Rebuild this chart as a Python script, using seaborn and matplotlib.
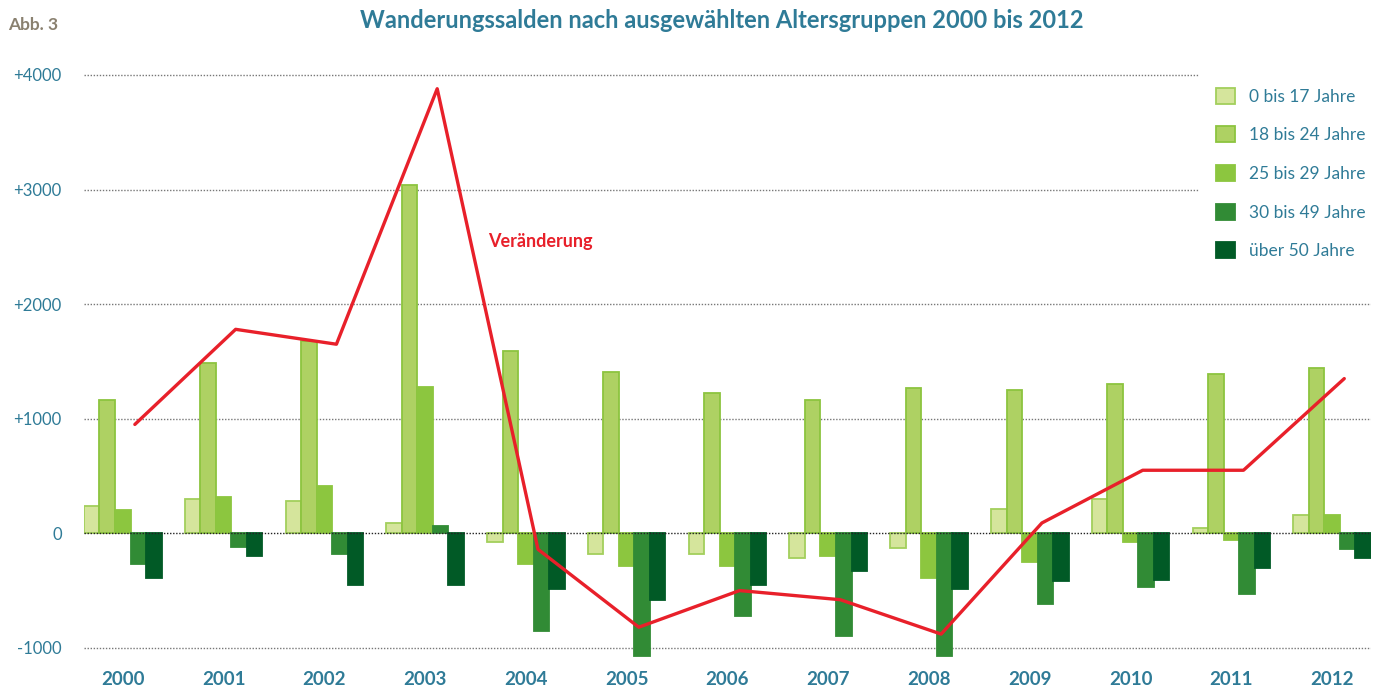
import numpy as np
import pandas as pd
import seaborn as sns
import matplotlib.pyplot as plt
from matplotlib.patches import Patch

# --- Daten ---
jahre = [str(j) for j in range(2000, 2013)]
gruppen = ["0 bis 17 Jahre", "18 bis 24 Jahre", "25 bis 29 Jahre",
           "30 bis 49 Jahre", "über 50 Jahre"]

alter_0_17 = [240, 300, 280, 90, -80, -180, -180, -220, -130, 210, 300, 50, 160]
alter_18_24 = [1160, 1490, 1680, 3040, 1590, 1410, 1220, 1160, 1270, 1250, 1300, 1390, 1440]
alter_25_29 = [200, 320, 410, 1280, -270, -290, -290, -200, -390, -250, -80, -60, 160]
alter_30_49 = [-270, -120, -180, 60, -850, -1070, -720, -900, -1070, -620, -470, -530, -140]
alter_50 = [-390, -200, -450, -450, -490, -580, -450, -330, -490, -420, -410, -300, -220]
veraenderung = [950, 1780, 1650, 3880, -140, -820, -500, -580, -880, 90, 550, 550, 1350]

werte = [alter_0_17, alter_18_24, alter_25_29, alter_30_49, alter_50]

farben = ["#d5e59c", "#aed163", "#8cc63f", "#318b35", "#015a26"]
kanten = ["#a3cf5c", "#8cc43f", "#8cc63f", "#318b35", "#015a26"]
teal = "#2f7b97"

df = pd.DataFrame({
    "Jahr": jahre * len(gruppen),
    "Gruppe": [g for g in gruppen for _ in jahre],
    "Saldo": [v for reihe in werte for v in reihe],
})

sns.set_theme(style="white")
plt.rcParams["font.family"] = ["Lato", "DejaVu Sans"]

fig = plt.figure(figsize=(13.74, 6.89), dpi=100)
ax = fig.add_axes([0.0611, 0.0348, 0.9367, 0.873])

breite = 0.77
sns.barplot(data=df, x="Jahr", y="Saldo", hue="Gruppe", order=jahre, hue_order=gruppen,
            palette=farben, saturation=1, width=breite, gap=0, legend=False, ax=ax, zorder=3)

for cont, kante in zip(ax.containers, kanten):
    for bar in cont:
        bar.set_edgecolor(kante)
        bar.set_linewidth(1.3)

# Linie "Veränderung", leicht rechts der Gruppenmitte
x_pos = np.arange(len(jahre)) + 0.12
ax.plot(x_pos, veraenderung, color="#e8202a", lw=2.4, zorder=5)
ax.text(3.62, 2550, "Veränderung", color="#e8202a", fontsize=13, fontweight="bold",
        va="center", ha="left")

ax.set_xlim(-breite / 2, len(jahre) - 1 + breite / 2)
ax.set_ylim(-1150, 4100)
yticks = [-1000, 0, 1000, 2000, 3000, 4000]
ax.set_yticks(yticks)
ax.set_yticklabels(["-1000", "0", "+1000", "+2000", "+3000", "+4000"], color=teal, fontsize=12)
ax.tick_params(axis="y", length=0, pad=16)
ax.tick_params(axis="x", length=0, pad=4)
for lbl in ax.get_xticklabels():
    lbl.set_color(teal)
    lbl.set_fontweight("bold")
    lbl.set_fontsize(13.5)
ax.set_xlabel("")
ax.set_ylabel("")

for y in yticks:
    ax.axhline(y, color="#222222" if y == 0 else "#777777", lw=1.0, ls=(0, (1, 1.2)), zorder=1 if y else 4)

for s in ax.spines.values():
    s.set_visible(False)

handles = [Patch(facecolor=f, edgecolor=k, lw=1.3) for f, k in zip(farben, kanten)]
leg = fig.legend(handles, gruppen, loc="upper left", bbox_to_anchor=(0.8726, 0.898),
                 frameon=True, framealpha=1, facecolor="white", edgecolor="white",
                 fontsize=12.5, labelcolor=teal, handlelength=1.05, handleheight=1.05,
                 labelspacing=1.25, handletextpad=0.85, borderpad=1.0, borderaxespad=0)
leg.set_zorder(10)

fig.text(0.006, 0.964, "Abb. 3", color="#8a8170", fontsize=12.5, fontweight="bold", va="center")
fig.text(0.525, 0.970, "Wanderungssalden nach ausgewählten Altersgruppen 2000 bis 2012",
         color=teal, fontsize=17, fontweight="bold", ha="center", va="center")

fig.savefig("out.png", dpi=100)
